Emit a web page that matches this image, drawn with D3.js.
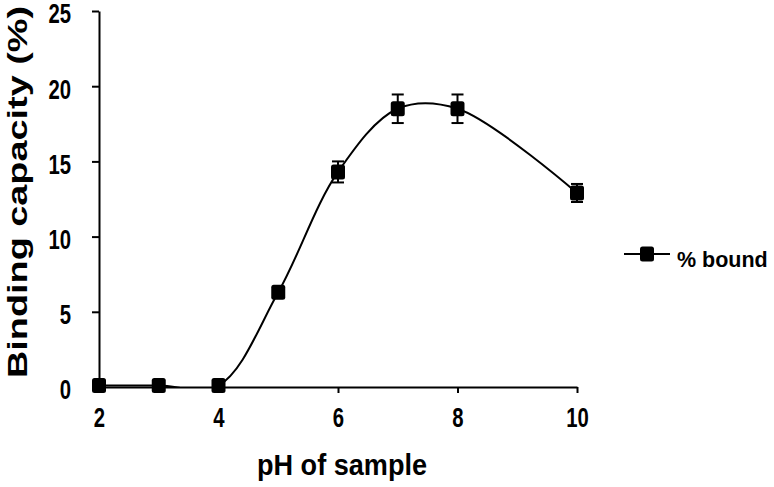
<!DOCTYPE html>
<html>
<head>
<meta charset="utf-8">
<script src="https://cdn.jsdelivr.net/npm/d3@7"></script>
<style>
  body { margin: 0; background: #fff; }
  svg { display: block; }
  .label { font-family: "Liberation Sans", Arial, sans-serif; font-weight: bold; fill: #000; }
</style>
</head>
<body>
<div id="chart"></div>
<script>
// data
var phValues = [2, 3, 4, 5, 6, 7, 8, 10]
var boundPct = [0.1, 0.1, 0.1, 6.3, 14.3, 18.5, 18.5, 12.9]
var boundErr = [0, 0, 0, 0.2, 0.7, 0.95, 0.95, 0.6]
var xTicks = [2, 4, 6, 8, 10]
var yTicks = [0, 5, 10, 15, 20, 25]

var width = 774, height = 487
var margin = {top: 11, right: 197, bottom: 100, left: 99}

var svg = d3.select("#chart").append("svg")
  .attr("width", width)
  .attr("height", height)

var x = d3.scaleLinear().domain([2, 10]).range([margin.left, width - margin.right])
var y = d3.scaleLinear().domain([0, 25]).range([height - margin.bottom, margin.top])

var data = phValues.map(function(d, i) {
  return {ph: d, v: boundPct[i], e: boundErr[i]}
})

// clip the smoothed line to the plot area, as the original does
svg.append("clipPath").attr("id", "plotclip")
  .append("rect")
  .attr("x", x(2)).attr("y", y(25))
  .attr("width", x(10) - x(2)).attr("height", y(0) - y(25))

// axes
var yAxis = svg.append("g")
  .attr("transform", "translate(" + x(2) + ",0)")
  .call(d3.axisLeft(y).tickValues(yTicks).tickSize(7).tickSizeOuter(0).tickPadding(21))
var xAxis = svg.append("g")
  .attr("transform", "translate(0," + y(0) + ")")
  .call(d3.axisBottom(x).tickValues(xTicks).tickSize(6).tickSizeOuter(0).tickPadding(15))

svg.selectAll(".domain, .tick line").attr("stroke", "#000").attr("stroke-width", 2)
// narrow digits, like the original's condensed face
svg.selectAll(".tick text")
  .style("font-family", "'Liberation Sans', Arial, sans-serif")
  .style("font-weight", "bold")
  .style("font-size", "27px")
  .attr("fill", "#000")
  .attr("textLength", function() { return this.textContent.length * 11.3 })
  .attr("lengthAdjust", "spacingAndGlyphs")
yAxis.selectAll(".tick text").attr("dy", "0.44em")
xAxis.selectAll(".tick text").attr("dy", "0.7em")

// smoothed line
var line = d3.line()
  .x(function(d) { return x(d.ph) })
  .y(function(d) { return y(d.v) })
  .curve(d3.curveCatmullRom)

svg.append("path")
  .datum(data)
  .attr("clip-path", "url(#plotclip)")
  .attr("fill", "none")
  .attr("stroke", "#000")
  .attr("stroke-width", 2)
  .attr("d", line)

// error bars
var eb = svg.append("g").attr("stroke", "#000").attr("stroke-width", 2)
data.filter(function(d) { return d.e > 0 }).forEach(function(d) {
  var cx = x(d.ph)
  eb.append("line").attr("x1", cx).attr("x2", cx).attr("y1", y(d.v - d.e)).attr("y2", y(d.v + d.e))
  eb.append("line").attr("x1", cx - 6).attr("x2", cx + 6).attr("y1", y(d.v - d.e)).attr("y2", y(d.v - d.e))
  eb.append("line").attr("x1", cx - 6).attr("x2", cx + 6).attr("y1", y(d.v + d.e)).attr("y2", y(d.v + d.e))
})

// markers
var mw = 14, mh = 15
svg.append("g").selectAll("rect")
  .data(data)
  .enter().append("rect")
  .attr("x", function(d) { return x(d.ph) - mw / 2 })
  .attr("y", function(d) { return y(d.v) - mh / 2 })
  .attr("width", mw).attr("height", mh)
  .attr("rx", 2.5)
  .attr("fill", "#000")

// axis titles
svg.append("text")
  .attr("class", "label")
  .attr("x", 342).attr("y", 475)
  .attr("text-anchor", "middle")
  .attr("font-size", 29)
  .attr("textLength", 170)
  .attr("lengthAdjust", "spacingAndGlyphs")
  .text("pH of sample")

svg.append("text")
  .attr("class", "label")
  .attr("transform", "translate(27,192) rotate(-90)")
  .attr("text-anchor", "middle")
  .attr("font-size", 27)
  .attr("textLength", 372)
  .attr("lengthAdjust", "spacingAndGlyphs")
  .text("Binding capacity  (%)")

// legend
var lg = svg.append("g").attr("transform", "translate(624,254)")
lg.append("line").attr("x1", 0).attr("x2", 46).attr("y1", 0).attr("y2", 0)
  .attr("stroke", "#000").attr("stroke-width", 2)
lg.append("rect").attr("x", 23 - mw / 2).attr("y", -mh / 2).attr("width", mw).attr("height", mh)
  .attr("rx", 2.5).attr("fill", "#000")
lg.append("text")
  .attr("class", "label")
  .attr("x", 53).attr("y", 13)
  .attr("font-size", 21.5)
  .text("% bound")
</script>
</body>
</html>
